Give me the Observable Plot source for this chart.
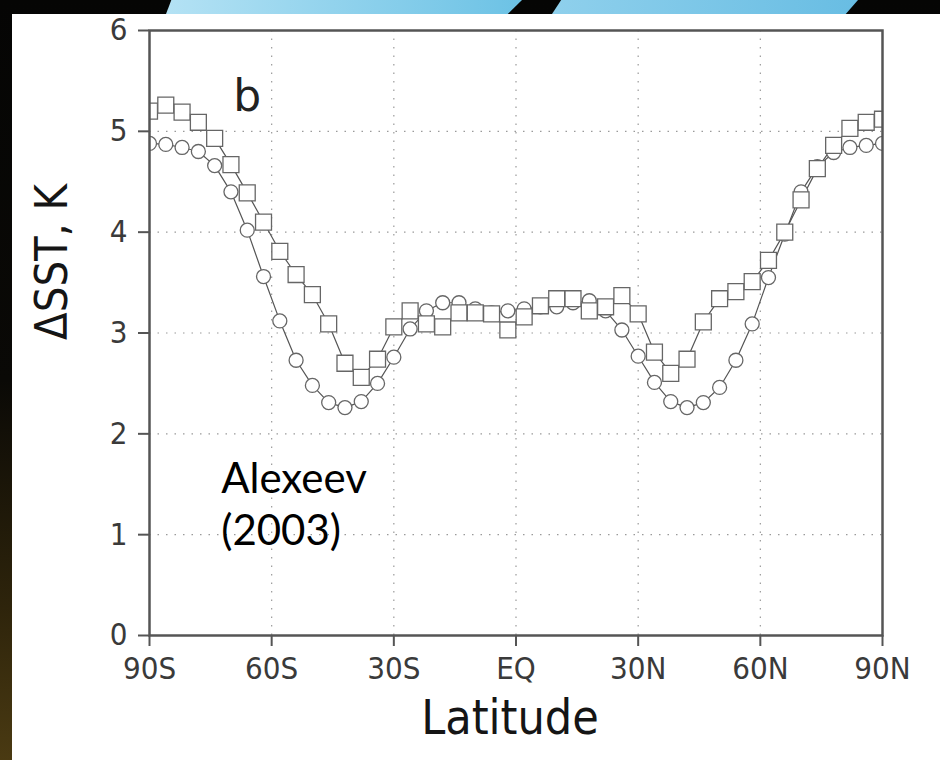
<!DOCTYPE html>
<html>
<head>
<meta charset="utf-8">
<script src="https://cdn.jsdelivr.net/npm/d3@7"></script>
<script src="https://cdn.jsdelivr.net/npm/@observablehq/plot@0.6"></script>
<style>
  html, body { margin: 0; padding: 0; }
  body {
    width: 940px; height: 760px; overflow: hidden; position: relative;
    background: linear-gradient(180deg, #050504 0%, #0a0906 50%, #2e240b 80%, #4a3a12 100%);
  }
  #panel { position: absolute; left: 12px; top: 14px; width: 928px; height: 746px; background: #fff; }
  .band { position: absolute; top: 0; height: 14px; }
  #b1 { left: 166px; width: 356px; background: linear-gradient(90deg, #b4e2f4, #6cc2e5);
        clip-path: polygon(1.5% 0, 100% 0, 96% 100%, 0 100%); }
  #b2 { left: 552px; width: 306px; background: linear-gradient(90deg, #8fd0ec, #68bde3);
        clip-path: polygon(3% 0, 100% 0, 96% 100%, 0 100%); }
  #chart { position: absolute; left: 0; top: 0; }
</style>
</head>
<body>
<div id="panel"></div>
<div class="band" id="b1"></div>
<div class="band" id="b2"></div>
<div id="chart"></div>
<script>
// Latitude grid (degrees, negative = south)
const lat = [-90,-86,-82,-78,-74,-70,-66,-62,-58,-54,-50,-46,-42,-38,-34,-30,-26,-22,-18,-14,-10,-6,-2,
             2,6,10,14,18,22,26,30,34,38,42,46,50,54,58,62,66,70,74,78,82,86,90];
// Series drawn with square markers (ΔSST, K)
const squareSeries = [5.20,5.26,5.19,5.09,4.93,4.67,4.39,4.10,3.81,3.58,3.38,3.09,2.70,2.56,2.74,3.06,3.22,3.09,3.06,3.20,3.20,3.19,3.03,
                      3.16,3.27,3.34,3.34,3.22,3.26,3.37,3.19,2.81,2.60,2.74,3.11,3.34,3.41,3.51,3.72,4.00,4.32,4.63,4.86,5.03,5.09,5.12];
// Series drawn with circle markers (ΔSST, K)
const circleSeries = [4.88,4.87,4.84,4.80,4.66,4.40,4.02,3.56,3.12,2.73,2.48,2.31,2.26,2.32,2.50,2.76,3.04,3.22,3.30,3.30,3.24,3.20,3.22,
                      3.24,3.26,3.26,3.30,3.32,3.22,3.03,2.77,2.51,2.32,2.26,2.31,2.46,2.73,3.09,3.55,3.98,4.40,4.65,4.79,4.84,4.86,4.88];
// Axis ticks
const xTicks = [-90,-60,-30,0,30,60,90];
const xTickLabels = ["90S","60S","30S","EQ","30N","60N","90N"];
const yTicks = [0,1,2,3,4,5,6];
const yTickLabels = ["0","1","2","3","4","5","6"];
const xLabel = "Latitude";
const yLabel = "ΔSST, K";
// In-plot annotations (data coordinates)
const panelLabel = [{lat: -66, v: 5.34, text: "b"}];
const sourceNote = [{lat: -72.4, v: 1.79, text: "Alexeev\n(2003)"}];

const sqData = lat.map((d, i) => ({lat: d, v: squareSeries[i]}));
const ciData = lat.map((d, i) => ({lat: d, v: circleSeries[i]}));

const gridStyle = {stroke: "#9a9a9a", strokeOpacity: 1, strokeWidth: 1.2, strokeDasharray: "1.5,7"};
const tickFont = "'DejaVu Sans Condensed','DejaVu Sans',sans-serif";

const chart = Plot.plot({
  width: 940,
  height: 760,
  marginLeft: 149,
  marginRight: 58,
  marginTop: 30,
  marginBottom: 125,
  style: {background: "transparent", fontFamily: tickFont, overflow: "visible"},
  x: {domain: [-90, 90]},
  y: {domain: [0, 6]},
  marks: [
    Plot.gridX(xTicks.slice(1, -1), gridStyle),
    Plot.gridY(yTicks.slice(1, -1), gridStyle),
    Plot.axisX(xTicks, {
      tickFormat: d => xTickLabels[xTicks.indexOf(d)],
      tickSize: 11, tickPadding: 10, fontSize: 31,
      stroke: "#555", strokeWidth: 2, fill: "#3a3a3a", label: null
    }),
    Plot.axisY(yTicks, {
      tickFormat: d => yTickLabels[yTicks.indexOf(d)],
      tickSize: 11, tickPadding: 11, fontSize: 31,
      stroke: "#555", strokeWidth: 2, fill: "#3a3a3a", label: null
    }),
    Plot.line(ciData, {x: "lat", y: "v", stroke: "#555", strokeWidth: 1.2}),
    Plot.line(sqData, {x: "lat", y: "v", stroke: "#555", strokeWidth: 1.2}),
    Plot.dot(ciData, {x: "lat", y: "v", r: 7, symbol: "circle", fill: "white", stroke: "#666", strokeWidth: 1.3, clip: true}),
    Plot.dot(sqData, {x: "lat", y: "v", r: 9, symbol: "square", fill: "white", stroke: "#666", strokeWidth: 1.3, clip: true}),
    Plot.frame({stroke: "#555", strokeWidth: 2.5}),
    Plot.text([yLabel], {frameAnchor: "left", text: d => d, rotate: -90, dx: -97, dy: 7, fontSize: 45, fill: "#151515"}),
    Plot.text([xLabel], {frameAnchor: "bottom", text: d => d, dx: -6, dy: 98, fontSize: 48, fill: "#151515"}),
    Plot.text(panelLabel, {x: "lat", y: "v", text: "text", fontSize: 44, fill: "#222", fontFamily: "'DejaVu Sans',sans-serif"}),
    Plot.text(sourceNote, {x: "lat", y: "v", text: "text", textAnchor: "start", lineAnchor: "top", lineHeight: 1.26,
                           fontSize: 42, fill: "#000", fontFamily: "Lato, 'Open Sans', sans-serif"})
  ]
});
document.getElementById("chart").appendChild(chart);
</script>
</body>
</html>
